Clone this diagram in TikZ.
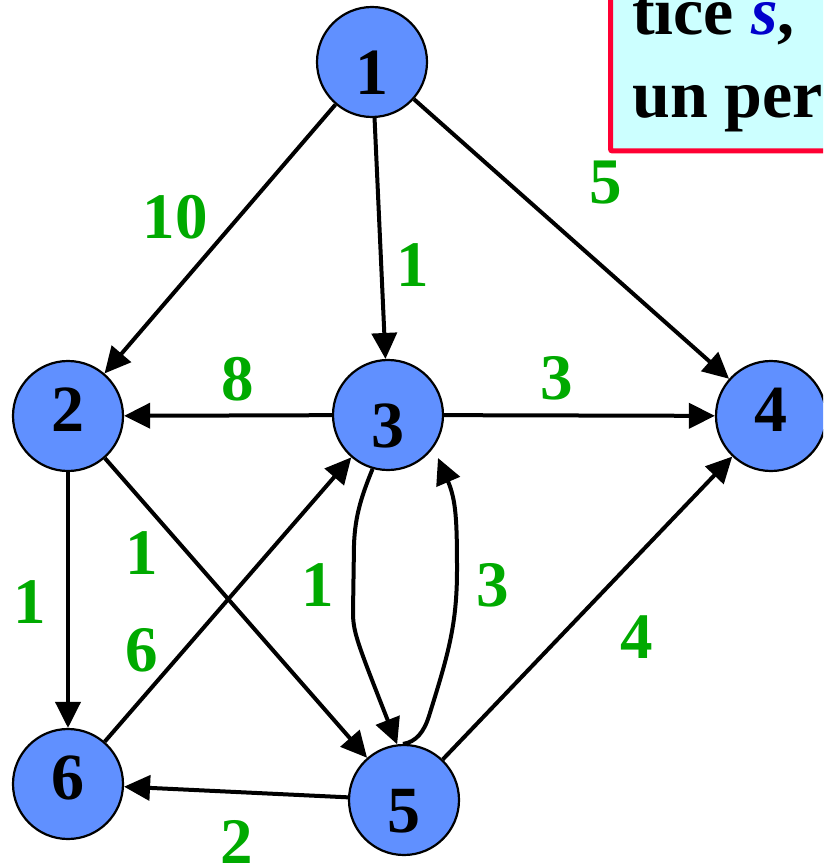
\documentclass[tikz,border=0pt]{standalone}
\usepackage{fontspec}
\setmainfont{Liberation Serif}
\usetikzlibrary{arrows.meta,calc}
\definecolor{nodeblue}{RGB}{96,144,255}
\definecolor{lblgreen}{RGB}{0,170,0}
\definecolor{boxred}{RGB}{255,0,51}
\definecolor{boxcyan}{RGB}{204,255,255}
\definecolor{sblue}{RGB}{0,0,204}
\begin{document}
\begin{tikzpicture}[x=1pt,y=-1pt,
  vertex/.style={circle, draw=black, line width=2.2pt, fill=nodeblue, minimum size=110pt, inner sep=0pt, font=\fontsize{66}{66}\selectfont\bfseries, text depth=0pt},
  vlow/.style={vertex, text height=65pt},
  vhigh/.style={vertex, text height=31pt},
  wlabel/.style={text=lblgreen, font=\fontsize{65}{65}\selectfont\bfseries, inner sep=0pt},
  edge/.style={line width=4pt, -{Triangle[length=26pt,width=25pt]}},
  boxtext/.style={anchor=base west, inner sep=0pt, font=\fontsize{68}{83}\selectfont\bfseries},
]
\useasboundingbox (0,0) rectangle (823,866);
\clip (0,0) rectangle (823,866);
\fill[white] (0,0) rectangle (823,866);

% box at top right
\draw[boxred, fill=boxcyan, line width=5pt, rounded corners=2pt] (610.5,-20) rectangle (900,151);
\node[boxtext] (t1) at (632,35) {tice \textcolor{sblue}{\itshape s},};
\node[boxtext] (t2) at (632,118) {un per};

% vertices
\node[vlow]  (n1) at (372,62)  {1};
\node[vhigh] (n2) at (68,416)  {2};
\node[vlow]  (n3) at (388,415) {3};
\node[vhigh] (n4) at (771,416) {4};
\node[vlow]  (n5) at (404,800) {5};
\node[vhigh] (n6) at (68,784)  {6};

% edges
\draw[edge] (n1) -- (n2);
\draw[edge] (n1) -- (n3);
\draw[edge] (n1) -- (n4);
\draw[edge] (n3) -- (n2);
\draw[edge] (n3) -- (n4);
\draw[edge] (n2) -- (n6);
\draw[edge] (n2) -- (n5);
\draw[edge] (n6) -- (n3);
\draw[edge] (n5) -- (n4);
\draw[edge] (n5) -- (n6);
\draw[edge] (n3.-106) .. controls (362,495) and (355,515) .. (354,545)
  -- (353,612) .. controls (353,632) and (357,642) .. (n5.97);
\draw[edge] (n5.91) .. controls (416,742) and (424,732) .. (429,716)
  .. controls (448,655) and (457,625) .. (457,570)
  .. controls (457,520) and (456,500) .. ($(n3)+(50,43)$);

% weights
\node[wlabel] (w12) at (175,217) {10};
\node[wlabel] (w13) at (413,265) {1};
\node[wlabel] (w14) at (606,183) {5};
\node[wlabel] (w32) at (238,379) {8};
\node[wlabel] (w34) at (557,378) {3};
\node[wlabel] (w26) at (30,602)  {1};
\node[wlabel] (w25) at (142,553) {1};
\node[wlabel] (w63) at (142,650) {6};
\node[wlabel] (w35) at (318,585) {1};
\node[wlabel] (w53) at (493,585) {3};
\node[wlabel] (w54) at (637,637) {4};
\node[wlabel] (w56) at (237,842) {2};
\end{tikzpicture}
\end{document}
